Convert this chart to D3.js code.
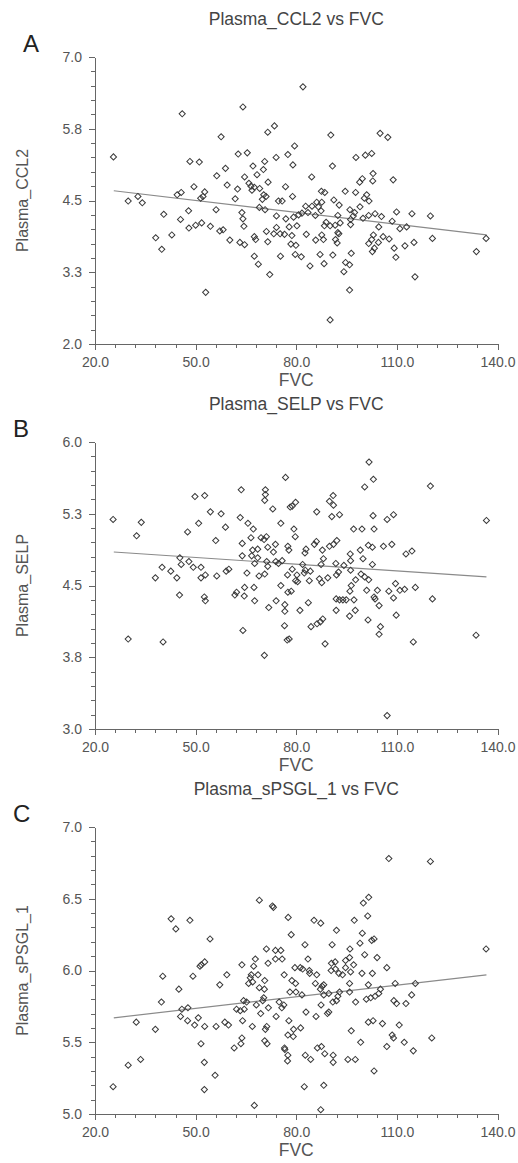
<!DOCTYPE html>
<html>
<head>
<meta charset="utf-8">
<script src="https://d3js.org/d3.v7.min.js"></script>
<style>
body { margin: 0; background: #fff; font-family: 'Liberation Sans', Arial, sans-serif; }
svg { display: block; }
.axis path, .axis line { stroke: #666; shape-rendering: crispEdges; }
.axis text { font-size: 14px; fill: #555; font-family: 'Liberation Sans', Arial, sans-serif; }
.title { font-size: 17.5px; fill: #444; }
.xlabel { font-size: 17.5px; fill: #555; }
.ylabel { font-size: 16px; fill: #555; }
.letter { font-size: 24px; fill: #222; }
.fit { stroke: #8a8a8a; stroke-width: 1.2; fill: none; }
.dot { fill: none; stroke: #3a3a3a; stroke-width: 1; }
</style>
</head>
<body>
<svg width="518" height="1163"></svg>
<script>
// [FVC, marker] pairs
const ccl2Points = [
  [46.0,6.01],[64.1,6.13],[73.5,5.80],[71.5,5.69],[57.6,5.61],[25.5,5.26],[48.3,5.18],[51.1,5.17],[62.7,5.31],[65.4,5.33],
  [79.5,5.45],[77.5,5.30],[74.0,5.25],[70.6,5.18],[67.1,5.10],[70.2,5.04],[58.9,5.06],[79.0,5.12],[68.3,4.95],[56.3,4.93],
  [64.6,4.91],[71.6,4.82],[49.5,4.74],[59.4,4.77],[62.5,4.70],[65.9,4.80],[66.5,4.75],[67.5,4.73],[66.8,4.68],[69.1,4.71],
  [76.8,4.74],[45.7,4.64],[44.5,4.60],[52.7,4.65],[52.2,4.57],[51.5,4.54],[32.8,4.57],[29.9,4.49],[34.1,4.46],[61.8,4.53],
  [70.3,4.60],[71.0,4.57],[69.9,4.52],[74.7,4.49],[75.8,4.49],[78.9,4.57],[40.5,4.26],[47.9,4.32],[56.1,4.34],[63.8,4.29],
  [69.0,4.38],[70.7,4.34],[45.5,4.17],[74.1,4.23],[76.9,4.18],[79.2,4.21],[80.7,4.25],[64.1,4.18],[48.0,4.02],[50.0,4.07],
  [51.8,4.11],[54.4,4.05],[57.2,3.97],[58.2,3.99],[64.4,4.05],[74.1,4.03],[77.9,4.04],[80.2,4.06],[42.9,3.90],[38.1,3.85],
  [67.5,3.87],[67.9,3.82],[71.1,3.96],[73.3,3.92],[75.2,3.92],[76.5,3.91],[78.7,3.89],[60.2,3.81],[63.2,3.77],[64.6,3.73],
  [71.5,3.78],[78.4,3.74],[79.9,3.72],[39.9,3.65],[67.5,3.53],[75.3,3.53],[79.7,3.56],[68.7,3.39],[72.1,3.21],[53.0,2.90],
  [82.0,6.48],[90.3,5.64],[105.0,5.67],[107.3,5.60],[97.8,5.25],[100.6,5.29],[102.5,5.32],[90.8,5.10],[84.6,4.91],[102.9,4.97],
  [102.8,4.84],[99.7,4.88],[98.9,4.82],[108.9,4.86],[87.5,4.66],[88.5,4.64],[94.6,4.66],[97.7,4.64],[101.0,4.60],[100.3,4.54],
  [101.7,4.49],[91.2,4.51],[92.8,4.42],[86.1,4.47],[87.6,4.47],[82.8,4.40],[84.7,4.40],[86.6,4.39],[87.4,4.32],[83.5,4.29],
  [85.7,4.24],[81.7,4.28],[99.0,4.39],[96.0,4.34],[97.4,4.29],[97.0,4.23],[92.4,4.24],[101.6,4.24],[103.5,4.27],[105.4,4.22],
  [109.9,4.30],[114.5,4.27],[120.0,4.23],[99.9,4.19],[96.2,4.17],[108.6,4.14],[88.9,4.12],[93.1,4.11],[88.4,4.06],[90.1,4.06],
  [91.6,4.07],[96.2,4.08],[104.6,4.04],[110.9,4.01],[112.9,4.04],[92.4,3.94],[92.7,3.92],[87.6,3.90],[83.0,3.91],[85.8,3.81],
  [88.1,3.82],[91.7,3.82],[103.0,3.90],[105.9,3.87],[107.7,3.83],[102.5,3.82],[101.6,3.75],[104.5,3.77],[120.6,3.84],[136.6,3.84],
  [115.1,3.77],[112.4,3.71],[92.2,3.76],[109.2,3.67],[103.3,3.67],[102.7,3.61],[133.7,3.61],[87.1,3.56],[90.9,3.55],[96.4,3.58],
  [109.7,3.51],[88.3,3.40],[84.1,3.36],[94.7,3.42],[95.9,3.38],[94.2,3.26],[115.4,3.17],[95.9,2.94],[90.1,2.42],[81.5,3.52]
];

const selpPoints = [
  [76.8,5.63],[63.6,5.50],[70.8,5.50],[70.8,5.45],[70.6,5.39],[49.8,5.43],[52.7,5.44],[79.8,5.37],[78.8,5.33],[78.2,5.32],
  [73.0,5.30],[54.4,5.27],[57.6,5.25],[25.4,5.19],[33.8,5.16],[50.9,5.15],[63.3,5.21],[65.6,5.15],[67.2,5.09],[58.9,5.11],
  [75.4,5.15],[79.3,5.09],[32.4,5.02],[47.6,5.06],[66.5,5.00],[69.5,5.00],[71.1,5.01],[70.4,4.98],[79.7,5.01],[56.0,4.97],
  [63.9,4.94],[73.8,4.93],[77.5,4.91],[77.8,4.87],[71.5,4.90],[67.0,4.87],[68.5,4.88],[73.2,4.85],[63.9,4.81],[66.7,4.81],
  [68.5,4.79],[45.3,4.79],[48.0,4.75],[45.7,4.72],[49.3,4.69],[51.6,4.69],[40.0,4.69],[67.6,4.73],[71.2,4.75],[71.5,4.70],
  [73.9,4.75],[75.8,4.76],[74.7,4.73],[78.8,4.67],[42.6,4.65],[44.4,4.58],[38.0,4.58],[52.9,4.61],[51.6,4.58],[56.3,4.60],
  [59.1,4.65],[59.9,4.67],[65.3,4.63],[68.9,4.60],[70.6,4.62],[77.4,4.61],[80.2,4.61],[80.4,4.54],[79.8,4.55],[75.4,4.50],
  [45.2,4.40],[52.6,4.38],[52.9,4.34],[62.2,4.43],[61.7,4.40],[64.6,4.48],[64.5,4.39],[67.4,4.48],[67.6,4.34],[74.0,4.34],
  [71.8,4.27],[77.5,4.43],[78.5,4.44],[76.6,4.30],[76.6,4.23],[76.5,4.08],[77.3,3.93],[77.9,3.94],[64.1,4.03],[29.9,3.94],
  [40.3,3.91],[70.5,3.77],[81.1,4.24],
  [101.7,5.79],[103.0,5.61],[100.4,5.53],[120.0,5.54],[91.0,5.44],[89.9,5.38],[91.1,5.34],[86.1,5.27],[90.6,5.22],[92.9,5.24],
  [102.9,5.23],[107.1,5.19],[109.0,5.24],[136.7,5.18],[97.1,5.09],[99.6,5.09],[103.2,5.09],[86.0,4.96],[85.4,4.93],[82.9,4.88],
  [82.6,4.84],[87.8,4.87],[89.9,4.91],[91.1,4.93],[92.1,4.97],[96.1,4.83],[99.1,4.87],[101.5,4.92],[102.7,4.90],[106.0,4.91],
  [108.5,4.93],[112.7,4.83],[114.5,4.86],[88.1,4.78],[96.2,4.76],[99.9,4.78],[87.4,4.72],[91.8,4.73],[94.2,4.71],[96.2,4.66],
  [102.7,4.72],[81.9,4.72],[82.7,4.66],[84.2,4.65],[82.4,4.63],[83.9,4.55],[86.9,4.57],[87.6,4.53],[89.4,4.58],[92.0,4.61],
  [92.6,4.64],[97.7,4.56],[99.3,4.62],[100.4,4.59],[101.6,4.56],[96.4,4.50],[96.0,4.44],[101.0,4.45],[104.2,4.45],[107.6,4.44],
  [109.6,4.52],[110.9,4.45],[112.3,4.46],[115.5,4.48],[83.6,4.32],[91.9,4.36],[92.9,4.35],[93.9,4.35],[94.9,4.35],[97.2,4.35],
  [103.2,4.38],[103.5,4.36],[109.0,4.37],[120.6,4.36],[104.7,4.29],[91.9,4.24],[97.6,4.24],[95.9,4.18],[101.4,4.14],[109.8,4.19],
  [87.9,4.15],[87.2,4.12],[86.2,4.10],[84.4,4.07],[105.1,4.07],[104.7,3.99],[88.6,3.89],[114.9,3.91],[133.6,3.98],[107.1,3.14]
];

const spsglPoints = [
  [69.0,6.49],[72.9,6.45],[73.2,6.44],[77.6,6.37],[42.7,6.36],[48.3,6.35],[44.1,6.29],[78.5,6.25],[54.3,6.22],[71.1,6.15],
  [73.8,6.14],[75.4,6.14],[73.8,6.08],[75.8,6.08],[67.8,6.08],[71.6,6.05],[52.7,6.06],[51.7,6.04],[51.3,6.03],[63.8,6.04],
  [67.3,6.03],[79.6,6.02],[40.2,5.96],[49.2,5.96],[59.3,5.97],[66.6,5.97],[68.6,5.97],[76.4,5.97],[66.3,5.95],[67.0,5.92],
  [65.8,5.91],[70.6,5.93],[78.7,5.93],[79.8,5.91],[45.0,5.87],[57.2,5.90],[69.0,5.88],[70.5,5.87],[78.1,5.85],[79.9,5.85],
  [39.8,5.78],[64.3,5.79],[65.2,5.78],[70.3,5.81],[70.0,5.79],[74.9,5.78],[76.3,5.76],[75.7,5.74],[45.9,5.73],[47.7,5.74],
  [45.5,5.68],[47.6,5.65],[50.8,5.67],[62.2,5.73],[63.3,5.72],[64.5,5.73],[68.1,5.76],[71.7,5.74],[69.4,5.70],[74.0,5.68],
  [64.0,5.65],[32.3,5.64],[38.0,5.59],[49.7,5.62],[52.7,5.61],[56.1,5.61],[58.7,5.64],[59.8,5.62],[66.9,5.61],[70.8,5.59],
  [71.2,5.61],[77.8,5.65],[79.2,5.59],[77.5,5.55],[79.1,5.54],[63.8,5.53],[63.5,5.49],[61.5,5.46],[51.6,5.49],[70.6,5.51],
  [71.3,5.49],[76.5,5.46],[76.6,5.45],[77.5,5.41],[77.4,5.37],[33.6,5.38],[29.9,5.34],[52.6,5.36],[55.8,5.27],[25.4,5.19],
  [52.6,5.17],[67.5,5.06],
  [107.6,6.78],[120.0,6.76],[101.6,6.51],[100.0,6.47],[101.3,6.38],[85.3,6.35],[87.3,6.33],[97.3,6.35],[92.0,6.28],[99.7,6.26],
  [103.2,6.22],[102.5,6.21],[136.6,6.15],[82.6,6.18],[90.7,6.18],[99.0,6.19],[96.0,6.15],[100.4,6.11],[104.1,6.09],[83.5,6.08],
  [94.7,6.07],[95.9,6.09],[90.5,6.05],[91.6,6.06],[97.1,6.04],[107.0,6.02],[81.2,6.02],[81.9,6.01],[83.9,6.00],[86.1,5.97],
  [84.0,5.98],[90.4,6.00],[91.7,6.01],[92.7,5.98],[93.8,5.97],[94.7,6.02],[96.2,5.99],[99.6,5.98],[102.7,5.98],[85.7,5.91],
  [88.2,5.90],[87.7,5.89],[87.2,5.87],[89.7,5.84],[88.2,5.83],[92.9,5.85],[95.9,5.91],[95.9,5.85],[101.5,5.90],[109.5,5.91],
  [115.5,5.91],[81.7,5.83],[92.4,5.82],[92.0,5.79],[90.9,5.78],[97.7,5.78],[100.9,5.80],[102.2,5.81],[103.5,5.82],[104.6,5.84],
  [105.1,5.87],[109.1,5.79],[109.9,5.77],[112.7,5.77],[114.4,5.83],[87.4,5.76],[82.9,5.71],[85.9,5.68],[89.7,5.71],[89.3,5.70],
  [81.3,5.60],[96.4,5.58],[101.5,5.64],[102.9,5.65],[105.7,5.63],[110.7,5.62],[99.2,5.50],[108.6,5.55],[109.0,5.53],[107.0,5.47],
  [112.2,5.50],[120.4,5.53],[114.9,5.44],[86.3,5.46],[87.5,5.47],[88.5,5.42],[82.7,5.41],[84.3,5.38],[91.0,5.41],[91.0,5.36],
  [95.4,5.38],[97.6,5.38],[103.2,5.30],[82.4,5.19],[88.2,5.20],[87.3,5.03]
];

// fitted lines, end points
const ccl2Fit = [[25.6, 4.67], [136.7, 3.90]];
const selpFit = [[25.6, 4.85], [136.7, 4.59]];
const spsglFit = [[25.6, 5.67], [136.7, 5.97]];

// axis ticks and labels
const xDomain = [20, 140];
const xLabels = ['20.0', '50.0', '80.0', '110.0', '140.0'];
const ccl2Domain = [2, 7];
const ccl2Labels = ['2.0', '3.3', '4.5', '5.8', '7.0'];
const selpDomain = [3, 6];
const selpLabels = ['3.0', '3.8', '4.5', '5.3', '6.0'];
const spsglDomain = [5, 7];
const spsglLabels = ['5.0', '5.5', '6.0', '6.5', '7.0'];

const panels = [
  { letter: 'A', lx: 23, title: 'Plasma_CCL2 vs FVC', ylab: 'Plasma_CCL2', pts: ccl2Points, fit: ccl2Fit, dom: ccl2Domain, labs: ccl2Labels },
  { letter: 'B', lx: 13, title: 'Plasma_SELP vs FVC', ylab: 'Plasma_SELP', pts: selpPoints, fit: selpFit, dom: selpDomain, labs: selpLabels },
  { letter: 'C', lx: 13, title: 'Plasma_sPSGL_1 vs FVC', ylab: 'Plasma_sPSGL_1', pts: spsglPoints, fit: spsglFit, dom: spsglDomain, labs: spsglLabels }
];

const svg = d3.select('svg');
const x = d3.scaleLinear().domain(xDomain).range([95, 497.5]);

// 20 minor steps on each axis, label on every 5th
const steps = d3.range(21);
const xMinor = steps.map(i => xDomain[0] + i * (xDomain[1] - xDomain[0]) / 20);
const xMajor = xMinor.filter((d, i) => i % 5 === 0);

const diamond = d3.symbol().type(d3.symbolSquare).size(19);

panels.forEach((p, k) => {
  const top = 57 + 385 * k;
  const bottom = top + 287;
  const mid = (top + bottom) / 2;
  const y = d3.scaleLinear().domain(p.dom).range([bottom, top]);
  const yMinor = steps.map(i => p.dom[0] + i * (p.dom[1] - p.dom[0]) / 20);
  const yMajor = yMinor.filter((d, i) => i % 5 === 0);

  const g = svg.append('g');

  // x axis
  g.append('g').attr('class', 'axis')
    .attr('transform', `translate(0,${bottom})`)
    .call(d3.axisBottom(x).tickValues(xMinor).tickSize(4).tickSizeOuter(0).tickFormat(''));
  g.append('g').attr('class', 'axis')
    .attr('transform', `translate(0,${bottom})`)
    .call(d3.axisBottom(x).tickValues(xMajor).tickSize(6).tickSizeOuter(0).tickPadding(7)
      .tickFormat((d, i) => xLabels[i]));

  // y axis
  g.append('g').attr('class', 'axis')
    .attr('transform', `translate(${x(xDomain[0])},0)`)
    .call(d3.axisLeft(y).tickValues(yMinor).tickSize(4).tickSizeOuter(0).tickFormat(''));
  g.append('g').attr('class', 'axis')
    .attr('transform', `translate(${x(xDomain[0])},0)`)
    .call(d3.axisLeft(y).tickValues(yMajor).tickSize(6).tickSizeOuter(0).tickPadding(7)
      .tickFormat((d, i) => p.labs[i]));

  // regression line
  g.append('path').attr('class', 'fit')
    .attr('d', d3.line().x(d => x(d[0])).y(d => y(d[1]))(p.fit));

  // points
  g.selectAll('.dot').data(p.pts).enter().append('path')
    .attr('class', 'dot')
    .attr('d', diamond)
    .attr('transform', d => `translate(${x(d[0])},${y(d[1])}) rotate(45)`);

  // texts
  g.append('text').attr('class', 'title')
    .attr('x', (x.range()[0] + x.range()[1]) / 2).attr('y', top - 32)
    .attr('text-anchor', 'middle').text(p.title);
  g.append('text').attr('class', 'letter')
    .attr('x', p.lx).attr('y', top - 5).text(p.letter);
  g.append('text').attr('class', 'xlabel')
    .attr('x', (x.range()[0] + x.range()[1]) / 2).attr('y', bottom + 42)
    .attr('text-anchor', 'middle').text('FVC');
  g.append('text').attr('class', 'ylabel')
    .attr('transform', `translate(28,${mid}) rotate(-90)`)
    .attr('text-anchor', 'middle').text(p.ylab);
});
</script>
</body>
</html>
